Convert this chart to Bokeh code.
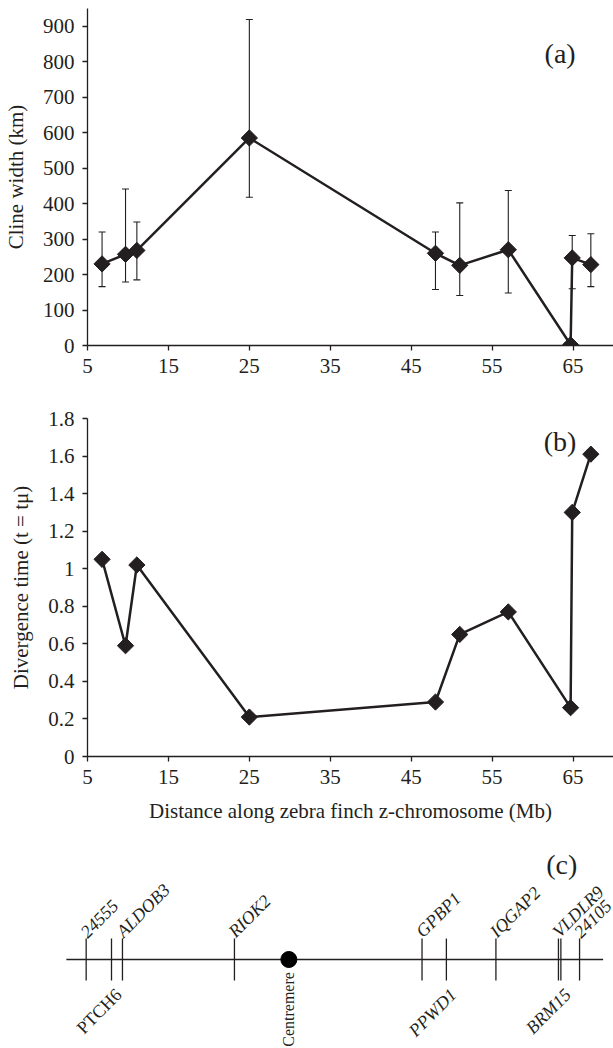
from bokeh.plotting import figure
from bokeh.models import ColumnDataSource, Whisker, TeeHead, FixedTicker, Range1d, Label
from bokeh.layouts import column
from bokeh.core.properties import value
from bokeh.embed import file_html
from bokeh.resources import INLINE
import math

# ---------------- data ----------------
pos_mb = [6.8, 9.7, 11.1, 25.0, 48.0, 51.0, 57.0, 64.7, 64.9, 67.2]
cline_width = [230, 257, 268, 585, 260, 226, 270, 2, 247, 228]
cline_upper = [320, 441, 348, 919, 320, 402, 437, None, 310, 315]
cline_lower = [166, 179, 185, 418, 158, 141, 148, None, 160, 166]
divergence = [1.05, 0.59, 1.02, 0.21, 0.29, 0.65, 0.77, 0.26, 1.30, 1.61]

x_ticks = [5, 15, 25, 35, 45, 55, 65]
a_ticks = [0, 100, 200, 300, 400, 500, 600, 700, 800, 900]
b_ticks = [0, 0.2, 0.4, 0.6, 0.8, 1, 1.2, 1.4, 1.6, 1.8]
b_tick_labels = ["0", "0.2", "0.4", "0.6", "0.8", "1", "1.2", "1.4", "1.6", "1.8"]

genes_top = ["24555", "ALDOB3", "RIOK2", "GPBP1", "IQGAP2", "VLDLR9", "24105"]
genes_top_pos = [4.84, 9.31, 23.1, 46.2, 55.3, 63.0, 65.6]
genes_bottom = ["PTCH6", "PPWD1", "BRM15"]
genes_bottom_pos = [7.96, 49.2, 63.3]
genes_bottom_style = ["normal", "italic", "italic"]
centromere_pos = [29.8]
chrom_extent = [2.4, 68.5]

FONT = "Liberation Serif"
INK = "#231f20"


def style_axes(p, yticks, ylabel, xlabel=None, overrides=None):
    p.xaxis.ticker = FixedTicker(ticks=x_ticks)
    p.yaxis.ticker = FixedTicker(ticks=yticks)
    p.xgrid.visible = False
    p.ygrid.visible = False
    p.outline_line_color = None
    for ax in (p.xaxis[0], p.yaxis[0]):
        ax.axis_line_color = INK
        ax.axis_line_width = 1.3
        ax.major_tick_line_color = INK
        ax.major_tick_line_width = 1.3
        ax.major_tick_out = 5
        ax.major_tick_in = 0
        ax.minor_tick_line_color = None
        ax.major_label_text_font = FONT
        ax.major_label_text_font_size = "21px"
        ax.major_label_text_color = INK
        ax.axis_label_text_font = FONT
        ax.axis_label_text_font_size = "21px"
        ax.axis_label_text_font_style = "normal"
        ax.axis_label_text_color = INK
    p.xaxis.major_label_standoff = 8
    p.yaxis.major_label_standoff = 8
    p.yaxis.axis_label = ylabel
    p.yaxis.axis_label_standoff = 12
    if xlabel:
        p.xaxis.axis_label = xlabel
        p.xaxis.axis_label_standoff = 12
    if overrides:
        p.yaxis.major_label_overrides = overrides


# ---------------- panel (a) ----------------
pa = figure(width=613, height=392, x_range=Range1d(5, 70), y_range=Range1d(0, 950),
            output_backend="svg", toolbar_location=None,
            min_border_left=87, min_border_right=0, min_border_top=8, min_border_bottom=47)
style_axes(pa, a_ticks, "Cline width (km)")

eb = {"x": [], "upper": [], "lower": []}
for x, u, l in zip(pos_mb, cline_upper, cline_lower):
    if u is not None:
        eb["x"].append(x)
        eb["upper"].append(u)
        eb["lower"].append(l)
eb_src = ColumnDataSource(eb)
pa.add_layout(Whisker(base="x", upper="upper", lower="lower", source=eb_src,
                      line_color=INK, line_width=1.1,
                      upper_head=TeeHead(size=7, line_color=INK, line_width=1.1),
                      lower_head=TeeHead(size=7, line_color=INK, line_width=1.1)))
src_a = ColumnDataSource(dict(x=pos_mb, y=cline_width))
pa.line("x", "y", source=src_a, line_color=INK, line_width=2.5)
pa.scatter("x", "y", source=src_a, marker="square", angle=math.pi / 4, size=11.5,
           fill_color=INK, line_color=INK)
pa.add_layout(Label(x=63.4, y=824, text="(a)", text_font=FONT, text_font_size="28px",
                    text_align="center", text_baseline="middle", text_color=INK))

# ---------------- panel (b) ----------------
pb = figure(width=613, height=448, x_range=Range1d(5, 70), y_range=Range1d(0, 1.8),
            output_backend="svg", toolbar_location=None,
            min_border_left=87, min_border_right=0, min_border_top=26, min_border_bottom=84)
style_axes(pb, b_ticks, "Divergence time (t = tμ)",
           xlabel="Distance along zebra finch z-chromosome (Mb)",
           overrides={t: s for t, s in zip(b_ticks, b_tick_labels)})
src_b = ColumnDataSource(dict(x=pos_mb, y=divergence))
pb.line("x", "y", source=src_b, line_color=INK, line_width=2.5)
pb.scatter("x", "y", source=src_b, marker="square", angle=math.pi / 4, size=11.5,
           fill_color=INK, line_color=INK)
pb.add_layout(Label(x=63.4, y=1.68, text="(b)", text_font=FONT, text_font_size="28px",
                    text_align="center", text_baseline="middle", text_color=INK))

# ---------------- panel (c) ----------------
pc = figure(width=613, height=208, x_range=Range1d(-5.71, 69.78), y_range=Range1d(-4.24, 5.67),
            output_backend="svg", toolbar_location=None, x_axis_type=None, y_axis_type=None,
            min_border=0, min_border_left=0, min_border_right=0,
            min_border_top=0, min_border_bottom=0)
pc.outline_line_color = None
pc.xgrid.visible = False
pc.ygrid.visible = False

pc.line(x=chrom_extent, y=[0, 0], line_color=INK, line_width=1.3)
all_pos = genes_top_pos + genes_bottom_pos
pc.segment(x0=all_pos, y0=[-1] * len(all_pos), x1=all_pos, y1=[1] * len(all_pos),
           line_color=INK, line_width=1.3)
pc.scatter(x=centromere_pos, y=[0], size=16, fill_color="black", line_color="black")

top_src = ColumnDataSource(dict(x=genes_top_pos, y=[1.2] * len(genes_top), t=genes_top))
pc.text("x", "y", text="t", source=top_src, angle=math.pi / 4, x_offset=-3,
        text_font=value(FONT), text_font_size="18px", text_font_style="italic",
        text_align="left", text_baseline="alphabetic", text_color=INK)
for name, xp, st in zip(genes_bottom, genes_bottom_pos, genes_bottom_style):
    pc.text(x=[xp], y=[-1.2], text=[name], angle=math.pi / 4, x_offset=0,
            text_font=value(FONT), text_font_size="18px", text_font_style=st,
            text_align="right", text_baseline="top", text_color=INK)
pc.text(x=centromere_pos, y=[-0.6], text=["Centremere"], angle=math.pi / 2,
        text_font=value(FONT), text_font_size="16px",
        text_align="right", text_baseline="middle", text_color=INK)
pc.add_layout(Label(x=63.4, y=4.52, text="(c)", text_font=FONT, text_font_size="28px",
                    text_align="center", text_baseline="middle", text_color=INK))

top = column(pa, pb, spacing=0)
open("out.html", "w").write(file_html([top, pc], INLINE))
